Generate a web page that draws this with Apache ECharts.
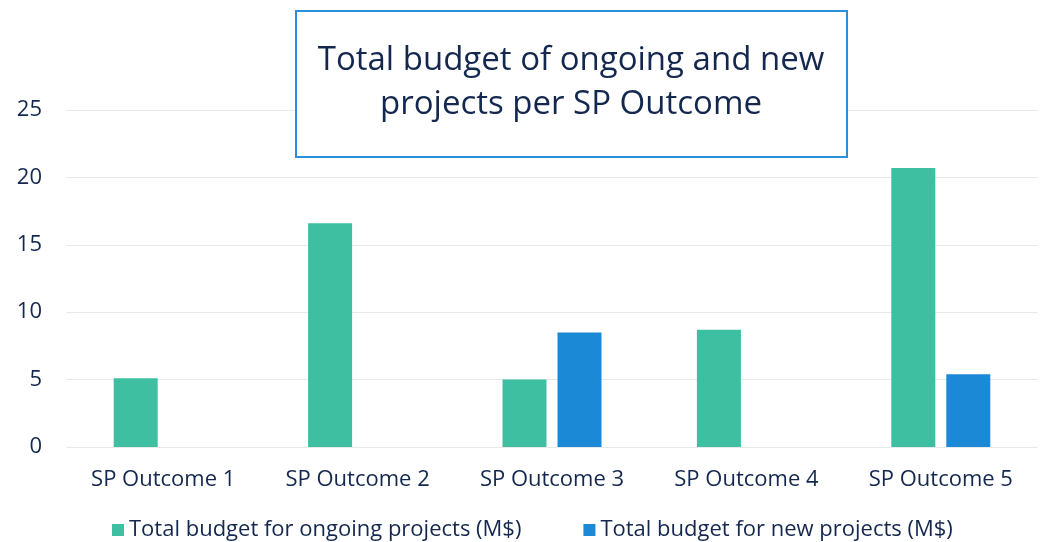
<!DOCTYPE html>
<html>
<head>
<meta charset="utf-8">
<script src="https://cdn.jsdelivr.net/npm/echarts@6/dist/echarts.min.js"></script>
<style>
  html, body { margin: 0; padding: 0; background: #fff; }
  #main { width: 1041px; height: 542px; }
</style>
</head>
<body>
<div id="main"></div>
<script>
"use strict";

// values (M$)
const categories = ['SP Outcome 1', 'SP Outcome 2', 'SP Outcome 3', 'SP Outcome 4', 'SP Outcome 5'];
const ongoingBudget = [5.1, 16.6, 5.0, 8.7, 20.7];
const newBudget = [null, null, 8.5, null, 5.4];
const yTicks = [0, 5, 10, 15, 20, 25];

const navy = '#14284f';
const font = '"Open Sans", "Noto Sans", sans-serif';

let myChart = echarts.init(document.getElementById('main'));

let option = {
    animation: false,
    textStyle: { fontFamily: font },
    graphic: [{
        type: 'rect',
        left: 295,
        top: 10,
        z: 10,
        shape: { width: 551, height: 146 },
        style: { fill: '#fff', stroke: '#2a8fda', lineWidth: 2 }
    }],
    title: {
        text: 'Total budget of ongoing and new\nprojects per SP Outcome',
        left: 566,
        top: 34,
        textAlign: 'center',
        z: 20,
        textStyle: {
            fontFamily: font,
            fontSize: 33,
            fontWeight: 'normal',
            color: navy,
            lineHeight: 44
        }
    },
    legend: {
        top: 514,
        left: 107,
        itemWidth: 12,
        itemHeight: 12,
        itemGap: 62,
        icon: 'rect',
        textStyle: { fontFamily: font, fontSize: 22, color: navy },
        data: ['Total budget for ongoing projects (M$)', 'Total budget for new projects (M$)']
    },
    grid: {
        left: 66,
        right: 3,
        top: 110,
        bottom: 95
    },
    xAxis: {
        type: 'category',
        data: categories,
        axisLine: { show: false },
        axisTick: { show: false },
        axisLabel: { fontFamily: font, fontSize: 22, color: navy, margin: 22 }
    },
    yAxis: {
        type: 'value',
        min: yTicks[0],
        max: yTicks[yTicks.length - 1],
        interval: 5,
        axisLine: { show: false },
        axisTick: { show: false },
        axisLabel: { fontFamily: font, fontSize: 22, color: navy, margin: 24 },
        splitLine: { lineStyle: { color: '#e9e9e9', width: 1 } }
    },
    series: [{
        name: 'Total budget for ongoing projects (M$)',
        type: 'bar',
        data: ongoingBudget,
        barWidth: 44,
        barGap: '25%',
        itemStyle: { color: '#3ebfa1' }
    }, {
        name: 'Total budget for new projects (M$)',
        type: 'bar',
        data: newBudget,
        barWidth: 44,
        itemStyle: { color: '#1b89d5' }
    }]
};

myChart.setOption(option);

window.addEventListener('resize', function () {
    myChart.resize();
});
</script>
</body>
</html>
